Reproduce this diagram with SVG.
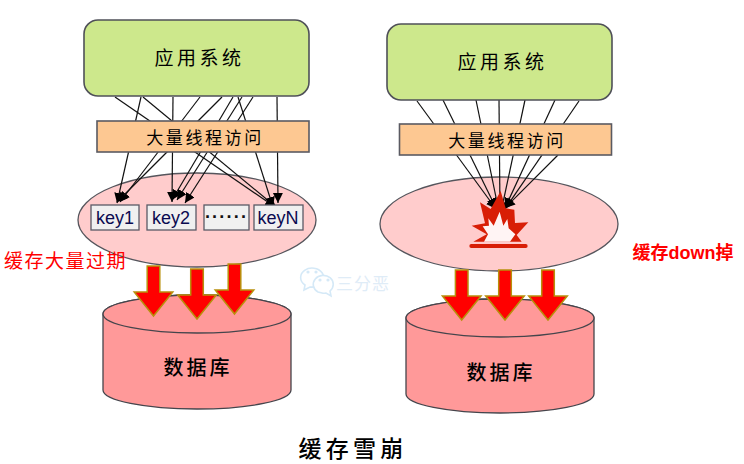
<svg xmlns="http://www.w3.org/2000/svg" width="744" height="464" viewBox="0 0 744 464">
<style>
text{font-family:"Noto Sans CJK SC","Liberation Sans",sans-serif;text-anchor:middle;dominant-baseline:central;fill:#000}
.app{fill:#cde88c;stroke:#4f5058;stroke-width:1.6}
.bar{fill:#fdc892;stroke:#5a5a62;stroke-width:1.6}
.cache{fill:#ffcccc;stroke:#55555c;stroke-width:1.3}
.db{fill:#ff9999;stroke:#45454c;stroke-width:1.3}
.key{fill:#f0f0f0;stroke:#5a5a66;stroke-width:1.3}
.keyt{font-family:"Liberation Sans",sans-serif;font-size:18px;fill:#0a0a50}
.big{font-size:19px;letter-spacing:3.500px;font-weight:400}
.mid{font-size:17px;letter-spacing:2.600px;font-weight:400}
.dbt{font-size:20px;letter-spacing:3px;font-weight:500}
.red{fill:#ff0000;font-weight:400}
.ar{fill:#ff0000;stroke:#b8900c;stroke-width:1.5}
#conn line{stroke:#111;stroke-width:1.2}
.h{marker-end:url(#ah)}
</style>
<defs>
<marker id="ah" markerUnits="userSpaceOnUse" markerWidth="12" markerHeight="12" refX="10" refY="5" orient="auto"><path d="M0 0L10 5L0 10Z" fill="#000"/></marker>
<path id="dn" d="M-6.300 0H6.300V26H19.300L0 50L-19.300 26H-6.300Z"/>
</defs>
<g id="cache-left"><ellipse class="cache" cx="197" cy="220" rx="119" ry="47"/></g>
<g id="cache-right"><ellipse class="cache" cx="499" cy="224" rx="119" ry="47"/></g>
<g id="conn">
<line class="h" x1="115" y1="97" x2="275" y2="207"/>
<line class="h" x1="143" y1="97" x2="276" y2="207"/>
<line class="h" x1="141" y1="97" x2="117" y2="203"/>
<line class="h" x1="173" y1="97" x2="172" y2="202"/>
<line class="h" x1="200" y1="97" x2="120" y2="202"/>
<line class="h" x1="222" y1="97" x2="117" y2="202"/>
<line class="h" x1="233" y1="97" x2="172" y2="200"/>
<line class="h" x1="242" y1="97" x2="177" y2="200"/>
<line class="h" x1="253" y1="97" x2="185" y2="203"/>
<line class="h" x1="238" y1="97" x2="273" y2="207"/>
<line class="h" x1="277" y1="97" x2="278" y2="203"/>
<line class="h" x1="417" y1="101" x2="496" y2="209"/>
<line class="h" x1="443" y1="100" x2="496" y2="208"/>
<line class="h" x1="476" y1="100" x2="499" y2="212"/>
<line class="h" x1="499" y1="100" x2="500" y2="212"/>
<line class="h" x1="525" y1="100" x2="501" y2="212"/>
<line class="h" x1="555" y1="100" x2="505" y2="208"/>
<line class="h" x1="579" y1="101" x2="505" y2="209"/>
<line class="h" x1="558" y1="155" x2="505" y2="208"/>
</g>
<g id="app-left"><rect class="app" x="84" y="20" width="225" height="76" rx="14"/><text class="big" x="199.500" y="56">应用系统</text></g>
<g id="app-right"><rect class="app" x="387" y="24" width="225" height="76" rx="14"/><text class="big" x="502.500" y="60">应用系统</text></g>
<g id="threads-left"><rect class="bar" x="97" y="121" width="212" height="31"/><text class="mid" x="205" y="136">大量线程访问</text></g>
<g id="threads-right"><rect class="bar" x="399.500" y="124" width="212" height="31"/><text class="mid" x="507" y="139">大量线程访问</text></g>
<g id="key1"><rect class="key" x="91" y="205" width="48" height="25"/><text class="keyt" x="115" y="218">key1</text></g>
<g id="key2"><rect class="key" x="147" y="205" width="49" height="25"/><text class="keyt" x="171" y="218">key2</text></g>
<g id="keydots"><rect class="key" x="204" y="205" width="45" height="25"/><text class="keyt" x="226.500" y="217" style="fill:#111;letter-spacing:1.200px;font-weight:700">······</text></g>
<g id="keyN"><rect class="key" x="254" y="205" width="49" height="25"/><text class="keyt" x="278" y="218">keyN</text></g>
<g id="explosion" transform="translate(460 185) scale(.3333)">
<path fill="#d81e06" d="M122 18L137 70L163 74L165 114L205 112L170 150L185 170H40L80 148L35 122L75 115L60 52L92 72Z"/>
<path fill="#fff4f4" d="M119 80L130 122L142 102L146 130L166 148L150 170H72L84 148L68 124L87 122L85 100L101 122Z"/>
<path stroke="#d81e06" stroke-width="12" stroke-linecap="round" d="M34 183H197"/>
</g>
<g id="db-left"><path class="db" d="M103 314V390A94 19 0 0 0 291 390V314A94 19 0 0 0 103 314Z"/><ellipse class="db" cx="197" cy="314" rx="94" ry="19"/><text class="dbt" x="198" y="366">数据库</text></g>
<g id="db-right"><path class="db" d="M406 318V394A94 19 0 0 0 594 394V318A94 19 0 0 0 406 318Z"/><ellipse class="db" cx="500" cy="318" rx="94" ry="19"/><text class="dbt" x="501" y="371">数据库</text></g>
<g id="flow-arrows">
<use class="ar" href="#dn" transform="translate(153.500 266)"/>
<use class="ar" href="#dn" transform="translate(197 269)"/>
<use class="ar" href="#dn" transform="translate(234.500 264)"/>
<use class="ar" href="#dn" transform="translate(461.700 270)"/>
<use class="ar" href="#dn" transform="translate(505 270)"/>
<use class="ar" href="#dn" transform="translate(548 270)"/>
</g>
<g id="watermark" fill="#fff" stroke="#d5e9f7" stroke-width="1.600">
<path d="M305 285l-1 5l6-3q3 .5 6-.5A11.500 9.500 0 1 0 305 285Z"/>
<path d="M318 292l4 1q2 .5 4 0l5 3l-1-5A10 9 0 1 0 318 292Z"/>
<circle cx="308" cy="272" r=".8"/><circle cx="316" cy="272" r=".8"/><circle cx="320" cy="280" r=".8"/><circle cx="328" cy="280" r=".8"/>
<text x="363" y="282" style="font-size:17px;letter-spacing:1px;fill:#dfecf7;stroke:none">三分恶</text>
</g>
<g id="labels">
<text class="red" x="65.500" y="259" style="font-size:19px;letter-spacing:1.500px">缓存大量过期</text>
<text class="red" x="683" y="253" style="font-size:18px;font-family:'Liberation Sans','Noto Sans CJK SC',sans-serif;font-weight:700">缓存down掉</text>
<text x="353" y="447" style="font-size:23px;letter-spacing:4.200px;font-weight:500">缓存雪崩</text>
</g>
</svg>
